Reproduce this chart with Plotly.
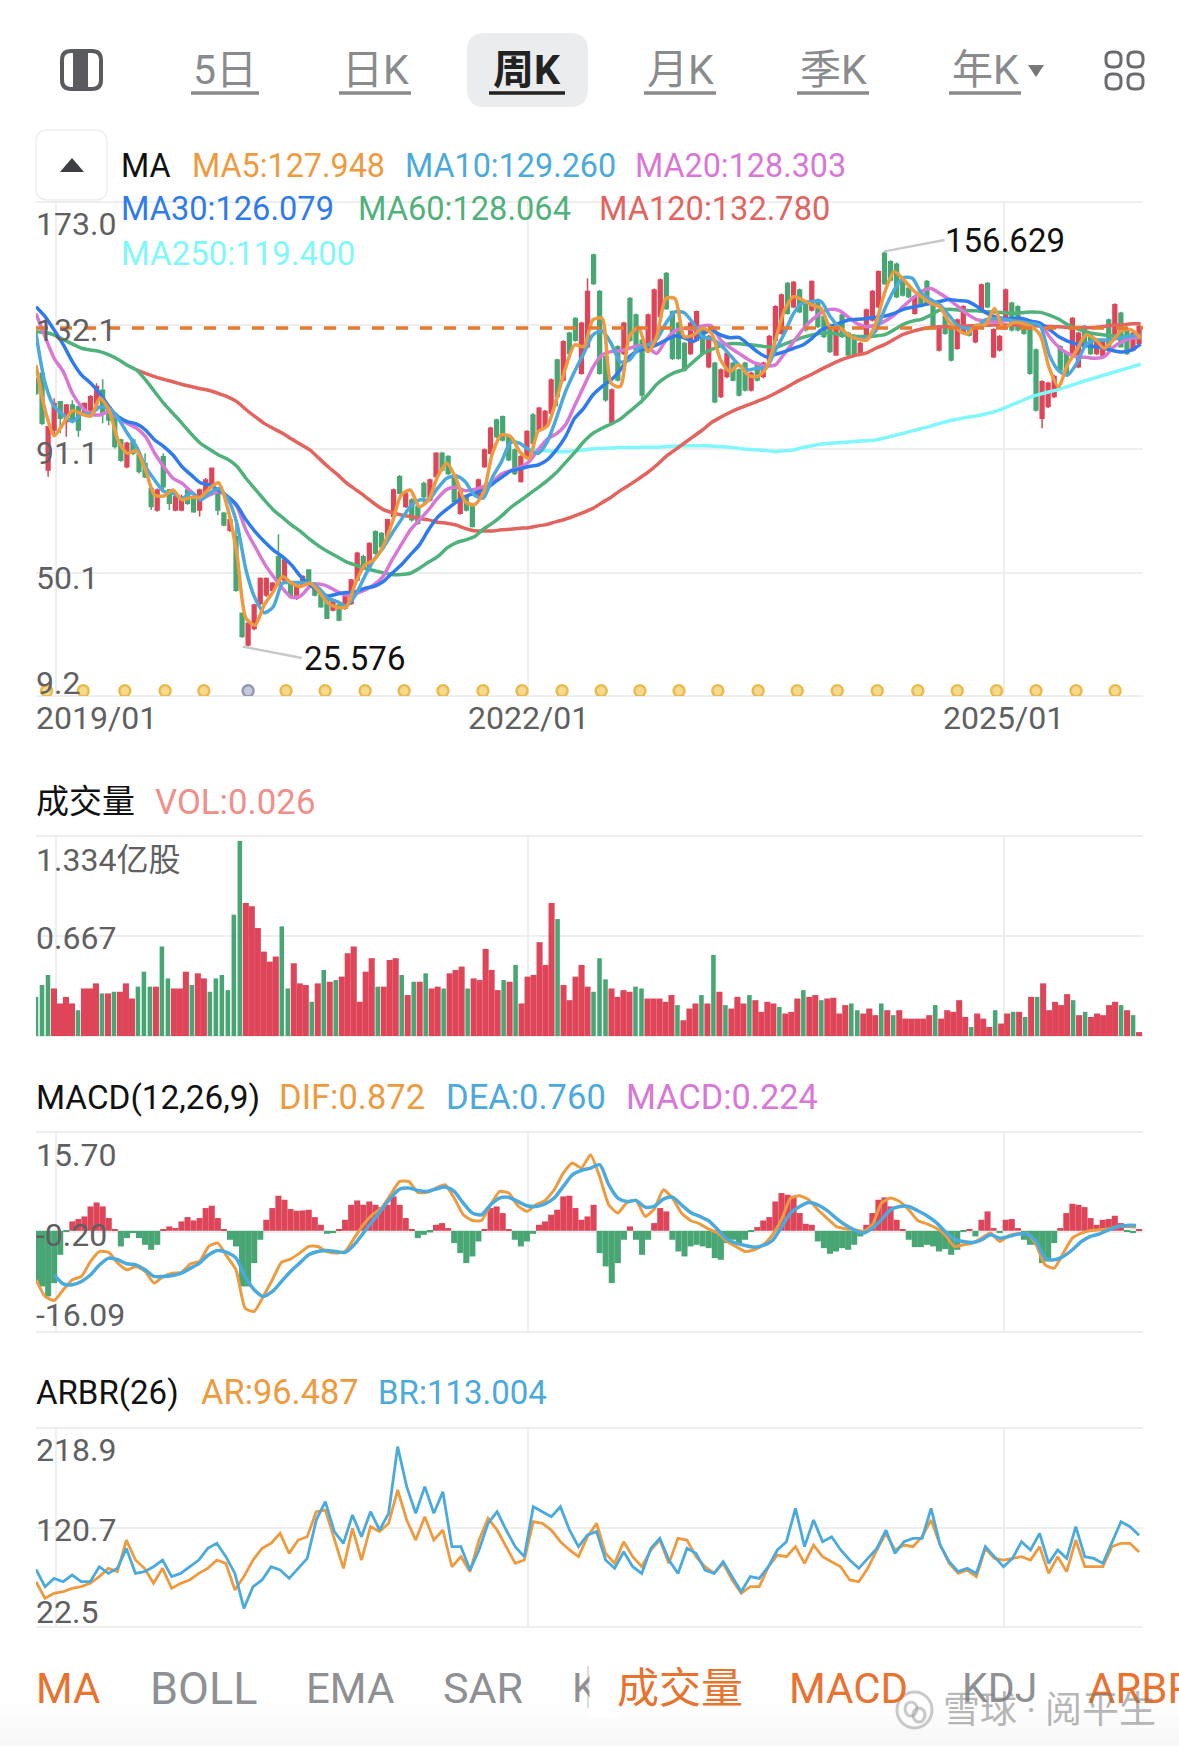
import plotly.graph_objects as go

W = 1179
H = 1746

# x axis is counted in weeks from the first candle
grid_weeks = [6.6, 162.4, 319.3]
last_week = 365.3

candle_open = [
    114.5, 116.2, 84.1, 97.4, 106.8, 100.2, 105.7, 105.1, 102.9, 104,
    106.2, 110.6, 105.1, 102.9, 94.1, 85.2, 94.1, 89.1, 86.3, 78,
    70.9, 88.5, 77.5, 70.9, 70.9, 77.5, 75.3, 70.9, 76.4, 78.6,
    77.5, 69.8, 64.2, 62, 36.6, 26.1, 31.6, 39.9, 42.7, 44.3,
    55.4, 47.7, 46.6, 41.6, 46, 51, 46.6, 42.7, 41, 37.7,
    39.4, 38.3, 39.9, 47.7, 55.4, 52.1, 63.7, 63.1, 62, 68.7,
    81.9, 72, 74.2, 72, 79.7, 74.2, 82, 89.7, 88.6, 82,
    69.8, 75.3, 72, 75.3, 85.3, 89.7, 100.7, 101.8, 95.2, 90.8,
    80.3, 88.6, 102.4, 97.4, 98.5, 103, 120.6, 114, 129.5, 134.4,
    116.2, 125, 155.4, 143.3, 121.7, 99.6, 125, 122.8, 141, 135.5,
    127.2, 123.9, 126.1, 135, 149.3, 136.6, 132.8, 126.1, 122.8, 127.2,
    131.1, 118.4, 119.5, 108.5, 115.1, 119.5, 117.3, 119.5, 110.7, 119.5,
    115.1, 120.6, 127.2, 129.5, 146, 138.3, 143.8, 138.9, 137.2, 140.5,
    135, 132.2, 122.3, 135.5, 129.5, 128.4, 122.8, 128.4, 133.9, 138.3,
    156, 153.2, 152.4, 147.1, 144.4, 136.1, 141.6, 146.6, 139.4, 123.9,
    135, 131.7, 124.5, 129.5, 130.6, 126.7, 137.2, 146, 121.7, 123.9,
    133.9, 139.4, 138.3, 132.8, 131.7, 123.9, 101.3, 105.2, 108.5, 125,
    122.8, 122.8, 118.4, 131.7, 128.9, 122.8, 122.3, 133.9, 128.4, 136.1,
    130.6, 123.9, 126.1,
]
candle_close = [
    109.5, 99.6, 98.5, 106.2, 101.3, 105.7, 100.7, 97.4, 106.2, 108.4,
    111.8, 102.9, 100.7, 91.9, 87.4, 93, 89.7, 83.6, 81.9, 72,
    77.5, 78.6, 73.1, 75.3, 75.3, 73.1, 70.3, 77.5, 80.8, 84.7,
    70.9, 65.9, 67.6, 44.3, 28.9, 33.3, 39.4, 48.2, 48.2, 46.6,
    46.6, 54.3, 42.1, 46.6, 48.8, 46.6, 42.7, 38.8, 35, 41,
    34.4, 42.1, 47.7, 56.5, 52.1, 59.8, 56.5, 58.7, 67.6, 77.5,
    76.4, 76.4, 67.6, 66.5, 75.3, 80.8, 89.7, 84.1, 83, 73.7,
    77, 70.9, 65.4, 80.8, 90.8, 98, 95.2, 94.1, 87.5, 83,
    88.6, 96.9, 93, 104.6, 103.5, 114, 108.5, 126.7, 122.8, 127.2,
    132.8, 143.3, 146, 116.2, 107.4, 110.7, 114, 132.8, 127.2, 123.9,
    109, 135.5, 143.8, 147.1, 137.7, 121.2, 121.2, 117.3, 132.8, 136.6,
    122.8, 128.4, 106.8, 117.3, 122.8, 114, 109, 110.7, 116.2, 114,
    119.5, 128.4, 138.3, 142.2, 136.1, 146.3, 136.6, 130.6, 146.6, 131.7,
    128.4, 123.4, 130.6, 128.4, 122.3, 122.3, 126.1, 137.2, 143.3, 149.9,
    146, 147.1, 141.6, 142.2, 141.6, 141.6, 138.9, 139.4, 131.7, 131.7,
    129.5, 120.6, 133.9, 138.3, 128.9, 131.7, 145.5, 138.3, 130.6, 128.4,
    143.8, 130.6, 130.6, 129.5, 116.2, 104, 113.4, 112.9, 115.1, 117.3,
    116.2, 134.4, 129.5, 125, 122.8, 127.2, 127.2, 125, 138.9, 125,
    122.8, 129.5, 131.7,
]
candle_high = [
    114.5, 116.2, 98.5, 107.9, 107, 106, 107.3, 105.5, 106.5, 109,
    112.9, 114.2, 105.5, 103, 94.5, 93.5, 94.5, 89.5, 89.7, 78.3,
    78, 89.7, 77.8, 76, 76, 78, 76, 78, 81.5, 85,
    78, 70.2, 68, 66.4, 36.6, 33.5, 39.8, 48.5, 48.5, 47,
    62.8, 54.6, 47, 47, 49.2, 51, 47, 43, 41.5, 41.5,
    39.8, 42.5, 48, 57, 56, 60.2, 64.2, 63.6, 68, 78,
    82.5, 77, 74.8, 72.5, 80.3, 81.3, 90, 90.2, 89, 82.5,
    77.5, 75.8, 72.5, 81.3, 91.3, 98.5, 101.1, 102.2, 95.7, 91.3,
    89, 97.3, 103, 105, 104, 114.5, 121, 127.2, 130, 134.8,
    133.3, 147.7, 155.8, 143.8, 122.2, 111.2, 125.5, 133.3, 141.5, 136,
    127.7, 136, 144.3, 147.6, 149.8, 137, 133.3, 126.6, 133.3, 137,
    131.6, 128.9, 120, 117.8, 123.3, 120, 117.8, 120, 116.7, 120,
    120, 128.9, 138.8, 142.7, 146.5, 146.8, 144.3, 139.4, 147, 141,
    135.5, 132.7, 131, 136, 130, 128.9, 126.6, 137.7, 143.8, 150.4,
    156.629, 153.7, 152.9, 147.6, 144.9, 142.1, 142.1, 147.1, 139.9, 132.2,
    135.5, 132.2, 134.4, 138.8, 131.1, 132.2, 146, 146.5, 131.1, 128.9,
    144.3, 139.9, 138.8, 133.3, 132.2, 124.4, 113.9, 113.4, 115.6, 125.5,
    123.3, 134.9, 130, 132.2, 129.4, 127.7, 127.7, 134.4, 139.4, 136.6,
    131.1, 130, 132.2,
]
candle_low = [
    109, 99, 81.9, 95.2, 96.3, 95.2, 99.6, 95.2, 101.8, 103,
    105, 99.6, 99, 91.3, 86.9, 84.7, 89, 83, 81.5, 70.9,
    70.3, 77.5, 70.9, 70.5, 70.5, 72.5, 70, 68.7, 75.8, 78,
    69.2, 65.5, 63.7, 43.8, 28.5, 25.576, 31, 39.4, 42, 43.8,
    46.2, 47.2, 41.5, 41, 45.5, 46, 42.2, 38.5, 34.7, 37.2,
    34, 37.8, 39.4, 47.2, 51.5, 51.6, 56, 58.2, 61.5, 68.2,
    76, 71.5, 67, 66, 73.1, 73.7, 81.5, 83.6, 82.5, 73,
    69.3, 70.4, 65.1, 74.8, 84.8, 89.2, 94.7, 93.6, 87, 82.5,
    80, 88.1, 92.5, 96.9, 98, 100.7, 105.2, 113.5, 122.3, 126.7,
    115.7, 124.5, 145.5, 115.7, 106.8, 99.4, 113.5, 122.3, 126.7, 123.4,
    106.2, 123.4, 125.6, 134.5, 137.2, 120.6, 120.7, 116.8, 122.3, 126.7,
    122.3, 117.9, 106.3, 108, 114.6, 113.5, 108.5, 110.2, 110.2, 113.5,
    114.6, 120.1, 126.7, 129, 135.6, 137.8, 136.1, 130.1, 136.7, 131.2,
    127.9, 122.9, 122, 127.9, 122, 122, 122.3, 127.9, 133.4, 137.8,
    145.5, 146.6, 141.1, 141.7, 141.1, 135.6, 138.4, 138.9, 131.2, 123.4,
    129, 120.1, 124, 129, 128.4, 126.2, 136.7, 137.8, 121.2, 123.4,
    133.4, 130.1, 130.1, 129, 115.7, 103.5, 98, 104.7, 108, 116.8,
    115.7, 122.3, 117.9, 124.5, 122.3, 122.3, 121.8, 124.5, 127.9, 125,
    122.3, 123.4, 125.6,
]

ma5 = [
    118.9, 104, 95.5, 99.6, 103.8, 102.7, 102, 107.9, 104, 93.9, 89.7, 90.5, 84.1, 75.8,
    75.5, 77.5, 74.2, 75.1, 75.1, 78, 79.9, 71.4, 56.5, 35, 32.7, 39.4, 43.8, 48.8,
    46.6, 45.5, 46.6, 43.8, 39.9, 38.6, 38.8, 46.6, 52.6, 54.3, 58.7, 66.5, 75.8, 77.5,
    72, 74.2, 82, 86.4, 81.4, 73.7, 72.6, 76.4, 89.7, 95.8, 95.2, 90.2, 88, 96.9, 98.7,
    107.4, 117.9, 125.6, 125, 133.9, 134.4, 112.9, 111.8, 128.4, 131.4, 123.4, 128.4,
    141, 141, 128.4, 128.9, 131.1, 129.5, 120.6, 116.8, 119, 115.6, 115.1, 117.9,
    127.2, 137.2, 141.6, 140.5, 138.9, 137.7, 131.4, 131.4, 128.9, 127.6, 127.2, 132.8,
    143.3, 149.9, 147.4, 144, 141.6, 139.4, 138.3, 133.3, 130.6, 129.2, 132.2, 132.2,
    137.7, 131.1, 133, 132.8, 131.7, 128.9, 117.9, 111.8, 119, 123.9, 128.9, 127.6,
    124.5, 127.2, 130.6, 130.6, 127.9,
]
ma10 = [
    129.4, 112.9, 105.1, 102.4, 100.2, 102.7, 102.7, 105.1, 104.6, 101.3, 96.3, 91.9, 85.2, 80.8,
    77, 76.4, 74.7, 76.6, 74.2, 76.4, 78, 74.7, 66.5, 51, 41.6, 36.8, 38.8, 46.6,
    46.8, 46.8, 46.6, 44.9, 41.6, 40.5, 39.1, 42.7, 48.8, 54.3, 58.2, 63.1, 67.6, 72,
    74.2, 74.2, 78.1, 81.4, 82.2, 80.3, 75.9, 74.8, 81.7, 86.9, 93.3, 93, 90.8, 89.7, 93.5,
    101.3, 110.1, 116.8, 122.8, 128.9, 130.3, 126.1, 120, 120.6, 124.5, 125.6, 127.5,
    132.8, 136.6, 136.3, 132.8, 128.4, 127.6, 125.6, 122.3, 119, 117.3, 117.9, 118.1,
    123.9, 129.5, 136.1, 139.6, 140, 140, 135, 131.3, 128.9, 127.8, 127.8, 130.3,
    137.7, 143.8, 147.9, 147.7, 142.7, 140.7, 138.9, 135.5, 131.9, 131.1, 131.4, 133.9,
    134.4, 134.1, 133.7, 133.3, 132.8, 131.9, 122.3, 117.1, 115.6, 119.5, 125.6, 127.2,
    127.2, 127.5, 128.1, 128.6, 128.9,
]
ma20 = [
    136, 128.3, 121.1, 116.7, 109.5, 105.1, 102.7, 102.4, 103.5, 101.3, 99.6, 98, 95.2, 89.7,
    85.2, 81.4, 79.7, 77, 74.7, 75.8, 77, 75.3, 72, 64.2, 58.7, 53.2, 48.8, 44.9,
    41.9, 42.4, 45.5, 46.3, 45.5, 43.8, 42.7, 43.2, 44.3, 46, 48.8, 54.3, 59.3, 64.2,
    67.6, 70.9, 74.8, 77.7, 78.4, 77.3, 77.7, 78.6, 80.3, 82.8, 83.9, 84.9, 86.9, 90.8, 94.4,
    96.1, 99.1, 105.4, 111.8, 118.1, 122.3, 123.4, 123.7, 124.5, 125.3, 124.8, 122.8,
    127.2, 130.3, 131.1, 130.8, 131.9, 131.9, 127.2, 124.8, 122.8, 120.8, 119.3, 118.6,
    119, 122.8, 126.7, 130.8, 133.9, 136.3, 137.4, 137, 134.8, 132.6, 131.7, 132.2,
    133.5, 135.5, 138.3, 141, 143.3, 144.3, 142.7, 140.7, 138.3, 135.9, 134.1, 133.5,
    133.3, 133.5, 133.9, 133.5, 133.2, 132.8, 128.4, 125, 122.8, 121.7, 121.5, 121.2,
    121.7, 124.8, 126.7, 127.8, 128.2,
]
ma30 = [
    138.3, 135, 130.5, 125.6, 120, 115.6, 112.9, 109.5, 105.1, 101.8, 100.2, 99.4, 97.4, 94.1,
    91.9, 89.1, 85.2, 82.5, 79.9, 79.2, 77.5, 75.3, 72.5, 67.6, 63.7, 60.4, 57.6, 55.4,
    52.6, 48.8, 46, 43.8, 42.4, 43, 43.5, 43.8, 44.9, 45.5, 47.1, 49.9, 52.6, 56,
    59.3, 64.3, 68.5, 71.1, 73.4, 75.3, 76.4, 77.5, 79.5, 81.7, 83.8, 84.5, 85.3, 85.8, 87.5,
    90.8, 95.2, 101.3, 104.6, 109, 111.8, 114, 117.3, 121.7, 123.7, 124.5, 125.6,
    127.2, 128.6, 128, 126.7, 129.2, 130.3, 128.9, 128, 128.1, 125.9, 123.4, 121.7,
    122.5, 123.4, 124.5, 125.6, 127.8, 130.6, 131.7, 132.8, 133.9, 134.1, 134.4, 134.8,
    135.2, 136.1, 137.4, 138.1, 138.7, 139.4, 140, 140.7, 140.3, 140.1, 138.5, 136.4,
    135, 134.4, 134.3, 134.4, 133.5, 132.8, 130.8, 128.4, 126.9, 125.9, 125.5, 125,
    124.5, 123.7, 123.3, 123.9, 125.9,
]
ma60 = [
    130, 129.7, 128.9, 127.4, 125.9, 124.5, 123.9, 123.4, 122.3, 120.8, 118.9, 117.3, 114, 110.1,
    106.2, 102.9, 99.6, 96.1, 93, 91, 89.1, 87.7, 85.4, 81.4, 77.8, 74.2, 70.9, 68.4,
    65.9, 63.7, 61.1, 58.9, 57, 55.4, 53.7, 52.6, 51.5, 50.8, 50.1, 49.5, 49.5, 49.9,
    51.6, 53.6, 55.4, 58.2, 60, 60.9, 62, 64.5, 66.5, 68.9, 71.7, 73.9, 76.1, 78.3, 80.6,
    83.3, 86.6, 89.9, 93.5, 96.3, 98, 99.4, 101, 103.5, 106, 109, 112.6,
    114.9, 116.5, 117.5, 120, 122.6, 124.1, 125.3, 126, 126, 125.7, 125.4, 125,
    124.8, 125.9, 127, 128.1, 128.9, 129.5, 129.6, 129.1, 128.8, 128.4, 128.4, 128.6,
    129, 130.6, 132.4, 133.5, 134.1, 135.5, 137.2, 137.4, 137.2, 137, 136.9, 136.6,
    136.5, 136.3, 136.1, 136.3, 136.5, 136.4, 135.5, 134.2, 132.4, 131, 130, 129.3,
    128.9, 128.6, 128.4, 128.1, 128,
]
ma120 = [None] * 11 + [
    117.3, 116.2, 115.1,
    114.2, 113.4, 112.5, 111.8, 111.1, 110.5, 109.5, 108.4, 106.8, 104.2, 101.8, 99.6, 97.9, 96.3,
    94.4, 92.6, 90.8, 88, 85.2, 82.7, 79.9, 77.7, 75.5, 73.1, 71.1, 70, 69.2, 68.7,
    68.1, 67.6, 66.8, 66.5, 65.9, 64.8, 64, 63.9, 63.9, 64.3, 64.5, 64.8, 65, 65.6, 66.1,
    67, 67.8, 68.9, 70.1, 71.4, 73.3, 75.1, 77.3, 79.2, 81.2, 83.3, 85.8,
    88.6, 90.8, 93, 95.2, 97.4, 99.9, 101.6, 103.2, 104.6, 105.7, 106.9, 108.1,
    109.6, 111.2, 112.9, 114.5, 115.9, 117.5, 119, 120.4, 121.5, 122.3, 123, 124.5,
    125.8, 127.5, 129.1, 130.1, 130.9, 131.4, 131.6, 131.7, 131.8, 131.9, 132, 132.1,
    132.2, 132.2, 132.2, 132.1, 132, 131.9, 131.7, 131.6, 131.4, 131.4, 131.3, 131.4,
    131.7, 132.1, 132.3, 132.6, 132.6,
]
ma250 = [None] * 54 + [
    91, 90.8, 90.5, 90.2, 90.2, 90.5, 90.8, 91.2, 91.3, 91.4, 91.6, 91.6, 91.6,
    91.7, 91.7, 91.9, 92.1, 92.2, 92.2, 92.2, 92.1, 91.9, 91.7, 91.3, 91, 90.8, 90.6,
    90.2, 90.5, 90.8, 91.6, 92.2, 92.7, 93, 93.2, 93.4, 93.7, 93.8, 94.1,
    94.8, 95.5, 96.3, 97.1, 97.9, 98.7, 99.6, 100.4, 101, 101.6, 102, 102.7,
    103.5, 104.6, 105.9, 107.1, 108.4, 109.3, 110.1, 110.8, 111.8, 112.8, 113.8, 114.7,
    115.6, 116.5, 117.4, 118.3, 119.2,
]
price_line = 131.2

ma_legend_1 = ["MA", "MA5:127.948", "MA10:129.260", "MA20:128.303"]
ma_legend_2 = ["MA30:126.079", "MA60:128.064", "MA120:132.780"]
ma_legend_3 = ["MA250:119.400"]

high_label = "156.629"
low_label = "25.576"
high_week = 280
low_week = 68.2

dividend_weeks = [
    3.5, 15.6, 29.3, 42.6, 55.4, 82.5, 95.4, 108.6, 121.5, 134.3, 147.5, 160.4, 173.6, 186.5,
    199.3, 212.2, 225, 238.3, 251.2, 264.4, 277.6, 291, 304, 317, 330, 343.2, 356.1,
]
split_weeks = [70]
marker_level = 10.9

volume = [
    .261, .340, .407, .317, .217, .261, .217, .172, .317, .317, .351, .284, .284, .295, .295,
    .351, .250, .329, .429, .329, .329, .597, .384, .317, .317, .429, .340, .418, .384, .295,
    .384, .407, .306, .809, 1.301, .887, .865, .720, .563, .496, .530, .731, .317, .485, .351,
    .340, .228, .351, .440, .362, .373, .396, .552, .597, .228, .429, .519, .329, .329, .507,
    .519, .407, .273, .362, .362, .418, .317, .329, .317, .418, .440, .463, .317, .384, .373,
    .581, .440, .306, .373, .362, .474, .217, .396, .407, .626, .474, .887, .780, .340, .239,
    .396, .474, .329, .295, .519, .378, .317, .261, .306, .295, .329, .317, .250, .250, .250,
    .228, .273, .206, .105, .183, .217, .273, .217, .541, .295, .206, .183, .261, .217, .273,
    .239, .161, .228, .217, .194, .150, .161, .250, .306, .261, .273, .239, .250, .255, .150,
    .206, .217, .172, .150, .183, .139, .217, .172, .139, .172, .116, .116, .116, .116, .139,
    .206, .116, .172, .161, .239, .127, .060, .150, .116, .060, .172, .083, .150, .161, .161,
    .127, .261, .261, .351, .172, .228, .206, .279, .239, .139, .161, .127, .150, .139, .206,
    .228, .206, .172, .139, .026,
]
volume_down_bars = [
    0, 1, 2, 7, 11, 13, 17, 18, 19, 21, 22, 26, 29, 30, 31, 32, 33, 34, 41, 42, 46, 48, 50,
    57, 61, 63, 65, 68, 72, 78, 80, 87, 93, 94, 95, 100, 101, 107, 111, 113, 115, 119, 124,
    128, 131, 136, 137, 141, 143, 150, 156, 160, 163, 165, 167, 173, 175, 181, 183,
]
volume_ticks = [0, 0.667, 1.334]

macd_hist = [
    -8.06, -8.85, -10.44, -8.32, -3.82, -0.11, 1.49, 1.86, 2.28, 3.87, 4.5, 3.87, 2.02, .27,
    -2.49, -1.17, -.37, -1.17, -2.23, -3.02, -2.23, .16, .69, .43, 1.49, 2.17, 1.64, 2.02,
    3.61, 3.98, 2.02, .16, -1.43, -2.49, -8.85, -8.85, -5.14, -1.43, 1.75, 3.61, 5.57, 4.93,
    3.45, 3.18, 3.23, 3.34, 2.17, .95, -.48, -.37, .16, 1.75, 4.13, 4.82, 4.13, 4.66, 4.13,
    3.76, 4.13, 5.46, 4.13, 2.02, .16, -1.17, -.64, -.26, .95, 1.22, .43, -1.96, -3.55, -5.14,
    -4.08, -1.7, .16, 3.61, 3.87, 2.81, .16, -1.43, -2.49, -1.7, -.48, .95, 1.49, 2.55, 3.34,
    5.46, 5.57, 3.61, 1.75, 2.28,
    4.13, -3.55, -5.67, -8.32, -5.14, -1.43, .69, -1.43, -3.82, -1.43, 1.22, 3.61, 3.08,
    -1.43, -3.29, -4.08, -2.49, -2.23, -2.49, -2.76, -4.35, -4.61, -1.96, -1.43, -1.96, -1.43,
    -.11, .58, 1.64, 2.17, 4.66, 5.99, 5.73, 5.46, 2.81, 1.11, .95, -1.7, -2.76, -3.66, -3.29,
    -2.76, -3.02, -2.23, -.9, .95, 2.81, 4.93, 5.3, 3.87, 1.75, .16, -1.43, -2.6, -2.6, -2.23,
    -2.49, -3.29, -2.91, -3.82, -3.02, -.11, .16, -.9, 1.75, 3.08, .43, -.37, 1.75, 1.86, .43,
    -1.43, -2.23, -2.23, -5.14, -4.88, -1.96, .43, 2.81, 4.29, 4.13, 3.76, 2.02, .95, 1.75,
    1.86, 2.39, 1.22, -.11, -.37, .16,
]
dif = [
    -7.79, -10.44, -11.08, -9.38, -7.79, -7.26, -4.88, -3.29, -3.44, -5.14, -6.2, -5.67, -6.47,
    -8.32, -7.26, -6.73, -6.62, -5.25, -4.88, -2.49, -1.96, -4.08, -6.2, -12.3, -12.83, -10.44,
    -7.79, -5.03, -4.5, -3.55, -2.49, -2.49, -3.29, -3.55, -3.29, -1.17, .95, 2.55, 3.61, 5.73,
    7.85, 7.85, 6.1, 6.1, 6.79, 7.32, 5.2, 2.55, 1.64, 1.64, 4.13, 6.25, 5.99, 3.98, 3.08, 4.13,
    4.82, 6.52, 9.17, 10.76, 9.97,
    12.1, 8.64, 4.13, 2.81, 4.5, 4.82, 2.28, 3.45, 6.52, 5.2, 2.81, 1.64, 1.11, .27, -.37, -1.7,
    -2.49, -3.29, -3.02, -2.23, -.64, 1.75, 5.2, 5.57, 4.93, 3.34, 2.02, .69, .32, .16, -.11,
    .95, 4.4, 5.2, 4.66, 3.34, 1.64, 1.11, .43, -.64, -2.49, -2.23, -1.96, -1.17, -.37, -1.7,
    -.79, -.48, -.37, -2.23, -5.41, -5.94, -3.55, -1.17, -.37, .05, .16, .32, .69, .69, .58,
]
dea = [
    None, None, -7, -8.43, -8.59, -8.06, -7, -5.41, -4.35, -4.61, -5.25, -5.41, -6.2, -7.26,
    -7.26, -7.1, -6.73, -5.94, -5.14, -3.82, -3.13, -3.44, -4.35, -7.26, -9.38, -10.44, -9.65,
    -8.06, -6.47, -5.14, -3.82, -3.29, -3.13, -3.29, -3.44, -2.23, -.37, 1.49, 3.34, 5.2, 6.63,
    6.79, 6.41, 6.25, 6.63, 6.94, 6.25, 4.4, 2.81, 2.55, 4.13, 5.2, 5.3, 4.66, 3.98, 3.87, 4.29,
    5.2, 7.05, 8.9, 9.59,
    9.97, 10.5, 7.32, 5.2, 4.66, 4.82, 3.76, 3.87, 5.04, 5.35, 4.13, 2.92, 2.28, 1.59, .16,
    -1.32, -1.96, -2.33, -2.6, -2.33, -1.54, .58, 2.81, 3.87, 4.5, 4.13, 3.23, 2.02, .95, .16,
    -.37, .43, 1.75, 3.34, 3.87, 3.87, 3.18, 2.39, 1.33, -.11, -1.32, -1.7, -1.85, -1.43, -.64,
    -1.17, -.9, -.53, -.48, -1.7, -4.35, -4.61, -4.08, -3.02, -1.7, -.9, -.48, .16, .69, .85, .85,
]
macd_ticks = [-16.09, -0.20, 15.70]

br = [
    79.4, 62.3, 70.5, 67.2, 73.8, 67.2, 67.2, 82, 75.4, 80.4, 100.1, 75.4, 77.1, 82, 88.6, 72.2,
    75.4, 82, 88.6, 100.1, 105.1, 91.9, 75.4, 40.9, 62.3, 68.9, 82, 78.7, 70.5, 80.4, 90.2, 128.1,
    146.2, 116.6, 105.1, 133, 111.6, 136.3, 118.2, 134.7, 200.5, 161, 134.7, 161, 134.7, 156,
    101.8, 101.8, 78.7, 98.5, 124.8, 136.3, 118.2, 101.8, 91.9, 141.2, 136.3, 131.4, 141.2, 118.2,
    101.8, 113.3, 116.6, 88.6, 80.4, 96.8, 82, 75.4, 100.1, 110, 88.6, 75.4, 100.1, 95.2, 78.7,
    75.4, 87, 72.2, 57.3, 72.2, 70.5, 82, 98.5, 106.7, 139.6, 101.8, 128.1, 106.7, 111.6, 98.5,
    88.6, 80.4, 90.2, 100.1, 118.2, 95.2, 106.7, 110, 110, 139.6, 103.4, 87, 77.1, 80.4, 75.4,
    101.8, 91.9, 82, 90.2, 106.7, 98.5, 114.9, 85.3, 98.5, 90.2, 121.5, 91.9, 90.2, 85.3, 106.7,
    126.4, 121.5, 113,
]
ar = [
    67.2, 50.8, 55.7, 57.3, 60.6, 62.3, 65.6, 72.2, 80.4, 77.1, 108.3, 88.6, 80.4, 65.6, 80.4,
    60.6, 65.6, 68.9, 75.4, 80.4, 88.6, 85.3, 59, 72.2, 88.6, 100.1, 105.1, 114.9, 95.2, 108.3,
    111.6, 136.3, 137.9, 108.3, 80.4, 119.9, 88.6, 121.5, 116.6, 124.8, 157.7, 128.1, 108.3, 131.4,
    108.3, 118.2, 82, 91.9, 77.1, 108.3, 129.7, 118.2, 101.8, 85.3, 88.6, 126.4, 124.8, 118.2,
    106.7, 98.5, 91.9, 111.6, 124.8, 95.2, 85.3, 106.7, 91.9, 82, 98.5, 108.3, 85.3, 110, 108.3,
    91.9, 82, 75.4, 85.3, 68.9, 55.7, 62.3, 62.3, 82, 93.5, 91.9, 101.8, 85.3, 103.4, 91.9, 87,
    82, 68.9, 67.2, 80.4, 98.5, 114.9, 98.5, 103.4, 101.8, 111.6, 128.1, 103.4, 85.3, 75.4, 78.7,
    72.2, 100.1, 90.2, 88.6, 90.2, 91.9, 88.6, 101.8, 75.4, 91.9, 77.1, 108.3, 82, 82, 82, 101.8,
    105.1, 105.1, 96.5,
]
arbr_ticks = [22.5, 120.7, 218.9]

top_tabs = ["5日", "日K", "周K", "月K", "季K", "年K"]
bottom_tabs_grey = ["BOLL", "EMA", "SAR", "K", "KDJ"]
bottom_tabs_orange = ["MA", "成交量", "MACD", "ARBR"]

RED = "#DE4558"
GREEN = "#47A673"
GRID = "#EEEEEE"
TEXT = "#5F6062"
TAB = "#8A8B8D"
FONT = "Roboto, 'Noto Sans CJK SC', sans-serif"
MA_COLORS = ["#EE9A3E", "#4AA9DD", "#D977D6", "#2F7BEE", "#50B27B", "#E3635F", "#7FF7FB"]


def px(x):
    return x / W


def py(y):
    return 1 - y / H


def spread(values, end):
    step = end / (len(values) - 1)
    return [i * step for i in range(len(values))]


annotations = []
shapes = []


def label(text, x, y, size=32, color=TEXT, anchor="left"):
    # annotations carry a little padding, pull left aligned text back over it
    if anchor == "left":
        x -= 2.5
    annotations.append(dict(
        text=text, x=px(x), y=py(y), xref="paper", yref="paper", showarrow=False,
        xanchor=anchor, yanchor="middle", font=dict(family=FONT, size=size, color=color),
    ))


def line(x0, y0, x1, y1, color, width=3, layer="above"):
    shapes.append(dict(
        type="line", xref="paper", yref="paper", x0=px(x0), y0=py(y0), x1=px(x1), y1=py(y1),
        line=dict(color=color, width=width), layer=layer,
    ))


def rounded(x0, y0, x1, y1, r, fill=None, stroke=None, width=3, layer="below"):
    path = (
        f"M {px(x0 + r)} {py(y0)} L {px(x1 - r)} {py(y0)} Q {px(x1)} {py(y0)} {px(x1)} {py(y0 + r)} "
        f"L {px(x1)} {py(y1 - r)} Q {px(x1)} {py(y1)} {px(x1 - r)} {py(y1)} "
        f"L {px(x0 + r)} {py(y1)} Q {px(x0)} {py(y1)} {px(x0)} {py(y1 - r)} "
        f"L {px(x0)} {py(y0 + r)} Q {px(x0)} {py(y0)} {px(x0 + r)} {py(y0)} Z"
    )
    shapes.append(dict(
        type="path", path=path, xref="paper", yref="paper", layer=layer,
        fillcolor=fill or "rgba(0,0,0,0)",
        line=dict(color=stroke or "rgba(0,0,0,0)", width=width if stroke else 0),
    ))


def triangle(x, y0, y1, half, color, up=True):
    tip, base = (y0, y1) if up else (y1, y0)
    path = f"M {px(x - half)} {py(base)} L {px(x + half)} {py(base)} L {px(x)} {py(tip)} Z"
    shapes.append(dict(
        type="path", path=path, xref="paper", yref="paper", fillcolor=color,
        line=dict(width=0), layer="above",
    ))


fig = go.Figure()

# price panel
candle_weeks = spread(candle_open, 364)
fig.add_trace(go.Candlestick(
    x=candle_weeks, open=candle_open, high=candle_high, low=candle_low, close=candle_close,
    increasing=dict(line=dict(color=RED, width=1.5), fillcolor=RED),
    decreasing=dict(line=dict(color=GREEN, width=1.5), fillcolor=GREEN),
    whiskerwidth=0,
))
for series, color in zip([ma250, ma120, ma60, ma20, ma30, ma10, ma5], [MA_COLORS[i] for i in (6, 5, 4, 2, 3, 1, 0)]):
    fig.add_trace(go.Scatter(
        x=spread(series, 364.5), y=series, mode="lines",
        line=dict(color=color, width=3.5, shape="spline", smoothing=0.7),
    ))
fig.add_trace(go.Scatter(
    x=[0, last_week], y=[price_line, price_line], mode="lines",
    line=dict(color="#E8782F", width=3.5, dash="12px,12px"),
))
fig.add_trace(go.Scatter(
    x=dividend_weeks, y=[marker_level] * len(dividend_weeks), mode="markers",
    marker=dict(color="#F6D98B", size=11, line=dict(color="#E9BB4F", width=2.5)),
))
fig.add_trace(go.Scatter(
    x=split_weeks, y=[marker_level] * len(split_weeks), mode="markers",
    marker=dict(color="#C5CADB", size=11, line=dict(color="#8F98B5", width=2.5)),
))

# volume panel
volume_weeks = spread(volume, 364)
volume_colors = [GREEN if i in volume_down_bars else RED for i in range(len(volume))]
volume_widths = [1.5 if i in volume_down_bars else 2.0 for i in range(len(volume))]
fig.add_trace(go.Bar(
    x=volume_weeks, y=volume, xaxis="x2", yaxis="y2",
    marker=dict(color=volume_colors, line=dict(width=0)), width=volume_widths,
))

# MACD panel
hist_weeks = spread(macd_hist, 364)
fig.add_trace(go.Bar(
    x=hist_weeks, y=macd_hist, xaxis="x3", yaxis="y3",
    marker=dict(color=[RED if v >= 0 else GREEN for v in macd_hist], line=dict(width=0)), width=2.0,
))
fig.add_trace(go.Scatter(
    x=spread(dif, 363), y=dif, xaxis="x3", yaxis="y3", mode="lines",
    line=dict(color="#EE9A3E", width=3, shape="spline", smoothing=0.5),
))
fig.add_trace(go.Scatter(
    x=spread(dea, 363), y=dea, xaxis="x3", yaxis="y3", mode="lines",
    line=dict(color="#4AA9DD", width=3.5, shape="spline", smoothing=0.7),
))

# ARBR panel
fig.add_trace(go.Scatter(
    x=spread(ar, 364), y=ar, xaxis="x4", yaxis="y4", mode="lines",
    line=dict(color="#EE9A3E", width=2.8),
))
fig.add_trace(go.Scatter(
    x=spread(br, 364), y=br, xaxis="x4", yaxis="y4", mode="lines",
    line=dict(color="#4AA9DD", width=2.8),
))

# plotly leaves out grid lines on the axis ends, so the panel edges are drawn here
for top, bottom in [(202, 696), (836, 1036), (1132, 1332), (1428, 1627)]:
    line(36, top, 1143, top, GRID, width=2, layer="below")
    line(36, bottom, 1143, bottom, GRID, width=2, layer="below")

# top tabs
rounded(467, 33, 588, 107, 18, fill="#EBECEE")
tab_centers = [225, 375, 527, 680, 833, 985]
tab_half = [34, 36, 38, 36, 36, 36]
for text, cx, half in zip(top_tabs, tab_centers, tab_half):
    active = text == "周K"
    color = "#222222" if active else TAB
    shown = f"<b>{text}</b>" if active else text
    label(shown, cx, 70, size=41, color=color, anchor="center")
    line(cx - half, 93, cx + half, 93, color, width=3.5)
triangle(1036, 65, 77, 8, "#777777", up=False)

rounded(62, 51, 101, 89, 9, stroke="#5A5B5F", width=4, layer="above")
shapes.append(dict(
    type="rect", xref="paper", yref="paper", x0=px(73), x1=px(88), y0=py(89), y1=py(51),
    fillcolor="#5A5B5F", line=dict(width=0), layer="above",
))
for x0, y0 in [(1106, 52), (1128, 52), (1106, 74), (1128, 74)]:
    rounded(x0, y0, x0 + 15, y0 + 15, 6, stroke="#6A6B6F", width=3, layer="above")

# price panel text
rounded(36, 130, 107, 200, 12, stroke="#EEEEEE", width=1.5)
triangle(72, 158, 172, 12, "#3D3E42")

for text, x in zip(ma_legend_1, [121, 192, 405, 635]):
    color = "#111111" if text == "MA" else MA_COLORS[ma_legend_1.index(text) - 1]
    label(text, x, 166, size=32.3, color=color)
for text, x, color in zip(ma_legend_2, [121, 358, 600], MA_COLORS[3:6]):
    label(text, x, 209, size=32.6, color=color)
label(ma_legend_3[0], 121, 253, size=33, color=MA_COLORS[6])

label("173.0", 36, 224)
label("132.1", 36, 330)
label("91.1", 36, 453)
label("50.1", 36, 578)
label("9.2", 36, 683)
label("2019/01", 36, 718, size=32)
label("2022/01", 528, 718, size=32, anchor="center")
label("2025/01", 1003, 718, size=32, anchor="center")

label(high_label, 945, 241, size=33, color="#111111")
label(low_label, 304, 658, size=33, color="#111111")
shapes.append(dict(
    type="line", xref="x", yref="y", x0=high_week, y0=candle_high[140], x1=high_week + 19.8, y1=candle_high[140] + 3.8,
    line=dict(color="#C8C8C8", width=2.5), layer="above",
))
shapes.append(dict(
    type="line", xref="x", yref="y", x0=low_week, y0=candle_low[35], x1=low_week + 19.5, y1=candle_low[35] - 3.8,
    line=dict(color="#C8C8C8", width=2.5), layer="above",
))

# sub panel text
label("成交量", 36, 802, size=33, color="#111111")
label("VOL:0.026", 155, 802, size=34.8, color="#F08E89")
label("1.334亿股", 36, 860)
label("0.667", 36, 938)

label("MACD(12,26,9)", 36, 1097, size=33.3, color="#111111")
label("DIF:0.872", 279, 1097, size=34.5, color="#EE9A3E")
label("DEA:0.760", 446, 1097, size=34.5, color="#4AA9DD")
label("MACD:0.224", 626, 1097, size=34.3, color="#D977D6")
label("15.70", 36, 1155)
label("-0.20", 36, 1235)
label("-16.09", 36, 1315)

label("ARBR(26)", 36, 1392, size=33, color="#111111")
label("AR:96.487", 201, 1392, size=34.4, color="#EE9A3E")
label("BR:113.004", 378, 1392, size=33, color="#4AA9DD")
label("218.9", 36, 1450)
label("120.7", 36, 1530)
label("22.5", 36, 1612)

# bottom tabs
for y0, fill in zip([1704, 1716, 1728, 1738], ["#FDFDFD", "#FBFBFB", "#F9F9F9", "#F7F7F7"]):
    shapes.append(dict(
        type="rect", xref="paper", yref="paper", x0=0, x1=1, y0=py(H), y1=py(y0),
        fillcolor=fill, line=dict(width=0), layer="below",
    ))
for text, x, size in zip(bottom_tabs_grey, [150, 306, 443, 572, 962], [45, 42, 43, 41, 41]):
    label(text, x, 1688, size=size, color="#8F9094")
annotations.append(dict(
    text=" ", x=px(589), y=py(1688), xref="paper", yref="paper", showarrow=False,
    xanchor="left", yanchor="middle", width=26, height=56, bgcolor="white",
))
shapes.append(dict(
    type="line", xref="paper", yref="paper", x0=px(588), x1=px(588), y0=py(1666), y1=py(1708),
    line=dict(color="#DDDDDD", width=2), layer="above",
))
for text, x in zip(bottom_tabs_orange, [36, 617, 790, 1088]):
    label(text, x, 1688, size=42, color="#E8722E")

# watermark
shapes.append(dict(
    type="circle", xref="paper", yref="paper", x0=px(897), x1=px(932), y0=py(1728), y1=py(1692),
    line=dict(color="rgba(150,150,150,0.5)", width=3), layer="above",
))
shapes.append(dict(
    type="circle", xref="paper", yref="paper", x0=px(905), x1=px(917), y0=py(1716), y1=py(1702),
    line=dict(color="rgba(150,150,150,0.5)", width=3), layer="above",
))
shapes.append(dict(
    type="circle", xref="paper", yref="paper", x0=px(913), x1=px(925), y0=py(1722), y1=py(1708),
    line=dict(color="rgba(150,150,150,0.5)", width=3), layer="above",
))
label("雪球 · 阅平生", 943, 1710, size=37, color="rgba(120,120,120,0.55)")

x_common = dict(
    domain=[px(36), px(1143)], range=[0, last_week], tickvals=grid_weeks, showticklabels=False,
    showgrid=True, gridcolor=GRID, gridwidth=1.5, zeroline=False, showline=False, ticks="",
)
y_common = dict(
    showticklabels=False, showgrid=True, gridcolor=GRID, gridwidth=2, zeroline=False,
    showline=False, ticks="",
)


def domain(top, bottom):
    return [py(bottom), py(top)]


fig.update_layout(
    width=W,
    height=H,
    autosize=False,
    margin=dict(l=0, r=0, t=0, b=0),
    paper_bgcolor="white",
    plot_bgcolor="white",
    showlegend=False,
    hovermode=False,
    barmode="overlay",
    boxgap=0.12,
    font=dict(family=FONT),
    xaxis=dict(anchor="y", rangeslider=dict(visible=False), **x_common),
    yaxis=dict(anchor="x", domain=domain(202, 696), range=[9.2, 173.0], tickvals=[9.2, 50.1, 91.1, 132.1, 173.0], **y_common),
    xaxis2=dict(anchor="y2", **x_common),
    yaxis2=dict(anchor="x2", domain=domain(836, 1036), range=[0, 1.334], tickvals=volume_ticks, **y_common),
    xaxis3=dict(anchor="y3", **x_common),
    yaxis3=dict(anchor="x3", domain=domain(1132, 1332), range=[-16.09, 15.70], tickvals=macd_ticks, **y_common),
    xaxis4=dict(anchor="y4", **x_common),
    yaxis4=dict(anchor="x4", domain=domain(1428, 1627), range=[22.5, 218.9], tickvals=arbr_ticks, **y_common),
    annotations=annotations,
    shapes=shapes,
)

fig.write_html(
    "out.html",
    config={"displayModeBar": False},
    post_script="document.body.style.margin='0';",
)
